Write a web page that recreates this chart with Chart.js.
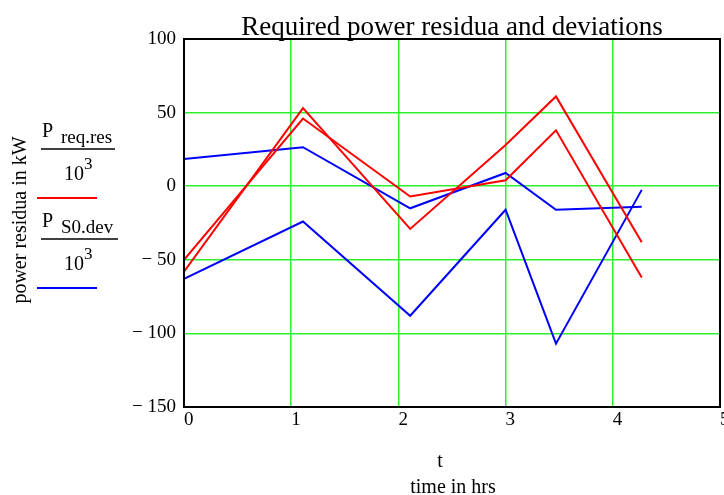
<!DOCTYPE html>
<html>
<head>
<meta charset="utf-8">
<script src="https://cdn.jsdelivr.net/npm/chart.js@4.4.1/dist/chart.umd.min.js"></script>
<style>
html,body{margin:0;padding:0;background:#fff;}
#wrap{width:724px;height:495px;position:relative;}
</style>
</head>
<body>
<div id="wrap"><canvas id="c" width="724" height="495"></canvas></div>
<script>
// time points (hrs)
const timeHrs = [0, 1.11, 2.11, 3.0, 3.47, 4.27];
// P_req.res / 10^3 (two curves)
const reqResA = [-58, 53, -29, 28, 61, -38];
const reqResB = [-50, 46, -7, 4, 38, -62];
// P_S0.dev / 10^3 (two curves)
const devA = [18.5, 26.5, -15, 9, -16, -14];
const devB = [-63, -24, -88, -16, -107, -2.5];
const xTicks = [0, 1, 2, 3, 4, 5];
const yTicks = [-150, -100, -50, 0, 50, 100];

const titleText = "Required power residua and deviations";
const xTitle1 = "t";
const xTitle2 = "time in hrs";
const yTitle = "power residua in kW";

const SERIF = "'Liberation Serif', 'DejaVu Serif', serif";

function pts(ys){ return timeHrs.map((t,i)=>({x:t,y:ys[i]})); }

const lineStyle = {borderWidth:2, pointRadius:0, tension:0, fill:false};

const overlay = {
  id:'overlay',
  afterDraw(chart){
    const ctx = chart.ctx, a = chart.chartArea;
    ctx.save();
    // frame
    ctx.strokeStyle = '#000'; ctx.lineWidth = 2;
    ctx.strokeRect(a.left, a.top, a.right - a.left, a.bottom - a.top);
    ctx.fillStyle = '#000';
    // title
    ctx.font = "27px " + SERIF;
    ctx.textAlign = 'center'; ctx.textBaseline = 'alphabetic';
    ctx.fillText(titleText, (a.left + a.right)/2, 35);
    // x titles
    ctx.font = "20px " + SERIF;
    ctx.fillText(xTitle1, 440, 467);
    ctx.fillText(xTitle2, 453, 493);
    // y title
    ctx.save();
    ctx.translate(26, 220);
    ctx.rotate(-Math.PI/2);
    ctx.font = "20px " + SERIF;
    ctx.textAlign = 'center';
    ctx.fillText(yTitle, 0, 0);
    ctx.restore();
    // legend
    function frac(sub, y0, color, x1){
      ctx.textAlign = 'left';
      ctx.font = "20px " + SERIF;
      ctx.fillText('P', 42, y0 + 14);
      ctx.font = "19px " + SERIF;
      ctx.fillText(sub, 61, y0 + 20);
      ctx.strokeStyle = '#000'; ctx.lineWidth = 1.5;
      ctx.beginPath(); ctx.moveTo(41, y0 + 26); ctx.lineTo(x1, y0 + 26); ctx.stroke();
      ctx.font = "20px " + SERIF;
      ctx.fillText('10', 64, y0 + 57);
      ctx.font = "17px " + SERIF;
      ctx.fillText('3', 84, y0 + 46);
      ctx.strokeStyle = color; ctx.lineWidth = 2;
      ctx.beginPath(); ctx.moveTo(37, y0 + 75); ctx.lineTo(97, y0 + 75); ctx.stroke();
    }
    frac('req.res', 123, '#ff0000', 115);
    frac('S0.dev', 213, '#0000ff', 118);
    ctx.restore();
  }
};

new Chart(document.getElementById('c'), {
  type:'line',
  data:{
    datasets:[
      Object.assign({data:pts(reqResA), borderColor:'#ff0000'}, lineStyle),
      Object.assign({data:pts(reqResB), borderColor:'#ff0000'}, lineStyle),
      Object.assign({data:pts(devA), borderColor:'#0000ff'}, lineStyle),
      Object.assign({data:pts(devB), borderColor:'#0000ff'}, lineStyle)
    ]
  },
  options:{
    responsive:false, animation:false, devicePixelRatio:1,
    layout:{padding:{top:39, right:4, left:0, bottom:0}},
    plugins:{legend:{display:false}, title:{display:false}, tooltip:{enabled:false}},
    scales:{
      x:{
        type:'linear', min:0, max:5,
        afterBuildTicks(s){ s.ticks = xTicks.map(v=>({value:v})); },
        afterFit(s){ s.height = 88; s.paddingLeft = 0; s.paddingRight = 0; },
        grid:{color:'#2cf02c', lineWidth:1.5, drawTicks:false},
        border:{display:false},
        ticks:{color:'#000', font:{family:SERIF, size:19}, align:'start', padding:2, maxRotation:0,
               callback:v=>String(v)}
      },
      y:{
        type:'linear', min:-150, max:100,
        afterBuildTicks(s){ s.ticks = yTicks.map(v=>({value:v})); },
        afterFit(s){ s.width = 184; s.paddingTop = 0; s.paddingBottom = 0; },
        grid:{color:'#2cf02c', lineWidth:1.5, drawTicks:false},
        border:{display:false},
        ticks:{color:'#000', font:{family:SERIF, size:19}, padding:8,
               callback:v=>String(v).replace('-', '\u2212 ')}
      }
    }
  },
  plugins:[overlay]
});
</script>
</body>
</html>
